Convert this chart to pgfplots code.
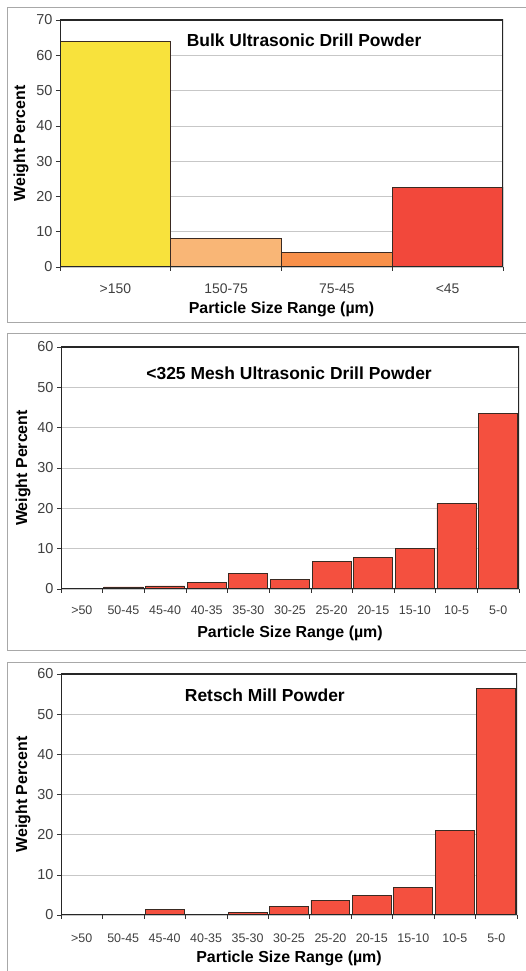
\documentclass[border=0pt]{standalone}
\usepackage{pgfplots}
\pgfplotsset{compat=1.18}
\usepackage{fontspec}
\setmainfont{Liberation Sans}
\definecolor{cyel}{HTML}{F8E23C}
\definecolor{clor}{HTML}{F9B676}
\definecolor{cor}{HTML}{F8904A}
\definecolor{cred}{HTML}{F2483B}
\definecolor{bred}{HTML}{F4503F}
\definecolor{edge}{HTML}{3A2A22}
\definecolor{tickc}{HTML}{404040}
\definecolor{framec}{HTML}{A8A8A8}
\pgfplotsset{
  panel/.style={
    scale only axis,
    anchor=south west,
    ymin=0,
    ybar, bar shift=0pt,
    axis line style={draw=none},
    ymajorgrids,
    grid style={draw=black!22, line width=0.6bp},
    tick pos=left,
    tick align=outside,
    major x tick style={draw=none},
    minor tick length=4bp,
    major tick length=4bp,
    tick style={draw=black!80, line width=0.6bp},
    /pgf/number format/assume math mode=true,
    yticklabel style={font=\fontsize{14.5}{16}\selectfont, text=tickc},
    xlabel={Particle Size Range (µm)},
    ylabel={Weight Percent},
    xlabel style={font=\bfseries\fontsize{16}{18}\selectfont},
    ylabel style={font=\bfseries\fontsize{16}{18}\selectfont},
    every axis plot/.append style={draw=edge, line width=0.9bp},
  }
}
\begin{document}
\begin{tikzpicture}[x=1bp,y=1bp]
\useasboundingbox (0,0) rectangle (526,971);
\fill[white] (0,0) rectangle (526,971);
% outer chart frames
\draw[framec, line width=0.7bp] (7,971-7) rectangle (540,971-322);
\draw[framec, line width=0.7bp] (7,971-333) rectangle (540,971-650);
\draw[framec, line width=0.7bp] (7,971-662) rectangle (540,-10);

% Panel 1
\begin{axis}[panel,
  at={(60bp,704bp)}, width=443bp, height=247bp,
  ymax=70, ytick={0,10,...,70},
  xmin=-0.5, xmax=3.5,
  xtick={0,1,2,3}, xticklabels={>150,150-75,75-45,<45},
  minor xtick={-0.5,0.5,1.5,2.5,3.5},
  bar width=1,
  xticklabel style={font=\fontsize{14}{16}\selectfont, text=tickc, anchor=center, yshift=-18bp},
  xlabel style={at={([yshift=-42bp]rel axis cs:0.5,0)}, anchor=center},
  ylabel style={at={([xshift=-39bp]rel axis cs:0,0.5)}, anchor=center},
]
\addplot[fill=cyel] coordinates {(0,64.0)};
\addplot[fill=clor] coordinates {(1,8.1)};
\addplot[fill=cor] coordinates {(2,4.1)};
\addplot[fill=cred] coordinates {(3,22.6)};
\draw[black!85, line width=1.6bp] (rel axis cs:0,0) rectangle (rel axis cs:1,1);
\node[font=\bfseries\fontsize{17.5}{20}\selectfont] at (rel axis cs:0.551,0.919) {Bulk Ultrasonic Drill Powder};
\end{axis}

% Panel 2
\begin{axis}[panel,
  at={(61bp,382bp)}, width=458bp, height=242bp,
  ymax=60, ytick={0,10,...,60},
  xmin=-0.5, xmax=10.5,
  xtick={0,...,10}, xticklabels={>50,50-45,45-40,40-35,35-30,30-25,25-20,20-15,15-10,10-5,5-0},
  minor xtick={-0.5,0.5,...,10.5},
  bar width=0.94,
  xticklabel style={font=\fontsize{12.5}{14}\selectfont, text=tickc, anchor=center, yshift=-17.7bp},
  xlabel style={at={([yshift=-44bp]rel axis cs:0.5,0)}, anchor=center},
  ylabel style={at={([xshift=-38bp]rel axis cs:0,0.5)}, anchor=center},
]
\addplot[fill=bred] coordinates {(0,0.1) (1,0.5) (2,0.75) (3,1.5) (4,3.8) (5,2.3) (6,6.9) (7,7.8) (8,10.1) (9,21.2) (10,43.6)};
\draw[black!85, line width=1.6bp] (rel axis cs:0,0) rectangle (rel axis cs:1,1);
\node[font=\bfseries\fontsize{17.5}{20}\selectfont] at (rel axis cs:0.498,0.893) {<325 Mesh Ultrasonic Drill Powder};
\end{axis}

% Panel 3
\begin{axis}[panel,
  at={(61bp,56bp)}, width=456bp, height=241bp,
  ymax=60, ytick={0,10,...,60},
  xmin=-0.5, xmax=10.5,
  xtick={0,...,10}, xticklabels={>50,50-45,45-40,40-35,35-30,30-25,25-20,20-15,15-10,10-5,5-0},
  minor xtick={-0.5,0.5,...,10.5},
  bar width=0.94,
  xticklabel style={font=\fontsize{12.5}{14}\selectfont, text=tickc, anchor=center, yshift=-19bp},
  xlabel style={at={([yshift=-43bp]rel axis cs:0.5,0)}, anchor=center},
  ylabel style={at={([xshift=-38bp]rel axis cs:0,0.5)}, anchor=center},
]
\addplot[fill=bred] coordinates {(0,0) (1,0.15) (2,1.3) (3,0.1) (4,0.6) (5,2.1) (6,3.7) (7,4.9) (8,6.9) (9,21.0) (10,56.4)};
\draw[black!85, line width=1.6bp] (rel axis cs:0,0) rectangle (rel axis cs:1,1);
\node[font=\bfseries\fontsize{17.5}{20}\selectfont] at (rel axis cs:0.447,0.91) {Retsch Mill Powder};
\end{axis}
\end{tikzpicture}
\end{document}
